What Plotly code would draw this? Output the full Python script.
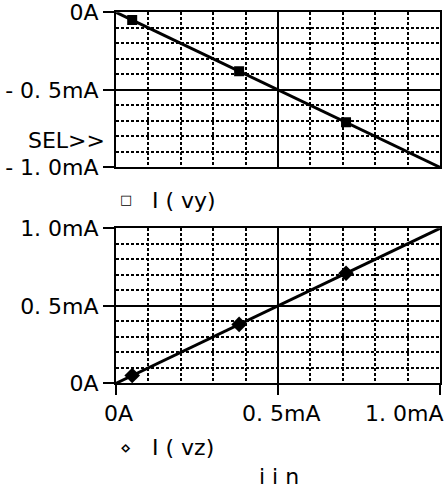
import plotly.graph_objects as go

# ---- data (currents in mA) ----
iin_ma = [0.0, 1.0]
i_vy = [0.0, -1.0]
i_vz = [0.0, 1.0]
marker_iin = [0.05, 0.38, 0.71]
marker_vy = [-0.05, -0.38, -0.71]
marker_vz = [0.05, 0.38, 0.71]

top_ytickvals = [0.0, -0.5, -1.0]
top_yticktext = ["0A", "- 0. 5mA", "- 1. 0mA"]
top_yminor = [-0.1, -0.2, -0.3, -0.4, -0.6, -0.7, -0.8, -0.9]
bot_ytickvals = [0.0, 0.5, 1.0]
bot_yticktext = ["0A", "0. 5mA", "1. 0mA"]
bot_yminor = [0.1, 0.2, 0.3, 0.4, 0.6, 0.7, 0.8, 0.9]
xtickvals = [0.0, 0.5, 1.0]
xticktext = ["0A", "0. 5mA", "1. 0mA"]
xminor = [0.1, 0.2, 0.3, 0.4, 0.6, 0.7, 0.8, 0.9]

W, H = 445, 491
FONT = "DejaVu Sans"
FS = 22

def px(x):
    return x / W

def py(y):
    return 1 - y / H

fig = go.Figure()

fig.add_trace(go.Scatter(x=iin_ma, y=i_vy, mode="lines", line=dict(color="black", width=3),
                         xaxis="x", yaxis="y", showlegend=False))
fig.add_trace(go.Scatter(x=marker_iin, y=marker_vy, mode="markers",
                         marker=dict(symbol="square", size=10, color="black"),
                         xaxis="x", yaxis="y", showlegend=False))
fig.add_trace(go.Scatter(x=iin_ma, y=i_vz, mode="lines", line=dict(color="black", width=3),
                         xaxis="x2", yaxis="y2", showlegend=False))
fig.add_trace(go.Scatter(x=marker_iin, y=marker_vz, mode="markers",
                         marker=dict(symbol="diamond", size=12, color="black"),
                         xaxis="x2", yaxis="y2", showlegend=False))

xdom = [px(116), px(440)]

def minor(vals):
    return dict(tickvals=vals, showgrid=True, gridcolor="black", gridwidth=1.5,
                griddash="3px,2px", ticks="")

base = dict(showline=True, linecolor="black", linewidth=2, mirror=True,
            showgrid=True, gridcolor="black", gridwidth=1.5, zeroline=False,
            automargin=False, tickmode="array", tickcolor="black", tickwidth=2)

fig.update_layout(
    width=W, height=H, autosize=False,
    margin=dict(l=0, r=0, t=0, b=0),
    paper_bgcolor="white", plot_bgcolor="white",
    font=dict(family=FONT, size=FS, color="black"),
    xaxis=dict(domain=xdom, anchor="y", range=[0, 1.0], tickvals=xtickvals,
               showticklabels=False, ticks="", minor=minor(xminor), **base),
    yaxis=dict(domain=[py(167.3), py(12.3)], anchor="x", range=[-1.0, 0.0],
               tickvals=top_ytickvals, ticktext=top_yticktext,
               ticks="outside", ticklen=11, minor=minor(top_yminor), **base),
    xaxis2=dict(domain=xdom, anchor="y2", range=[0, 1.0], tickvals=xtickvals,
                showticklabels=False, ticks="outside", ticklen=10,
                minor=minor(xminor), **base),
    yaxis2=dict(domain=[py(383.3), py(228.3)], anchor="x2", range=[0.0, 1.0],
                tickvals=bot_ytickvals, ticktext=bot_yticktext,
                ticks="outside", ticklen=11, minor=minor(bot_yminor), **base),
)

annots = []
# x tick labels
annots.append(dict(x=xtickvals[0], y=py(413), xref="x2", yref="paper", text=xticktext[0],
                   xanchor="center", yanchor="middle", xshift=2, showarrow=False))
annots.append(dict(x=xtickvals[1], y=py(413), xref="x2", yref="paper", text=xticktext[1],
                   xanchor="center", yanchor="middle", xshift=3, showarrow=False))
annots.append(dict(x=xtickvals[2], y=py(413), xref="x2", yref="paper", text=xticktext[2],
                   xanchor="right", yanchor="middle", xshift=5, showarrow=False))
# SEL>>
annots.append(dict(x=px(107), y=py(140), xref="paper", yref="paper", text="SEL>>",
                   xanchor="right", yanchor="middle", showarrow=False))
# legends
annots.append(dict(x=px(126), y=py(199), xref="paper", yref="paper", text="□",
                   font=dict(size=13), xanchor="center", yanchor="middle", showarrow=False))
annots.append(dict(x=px(150), y=py(200), xref="paper", yref="paper", text="I ( vy)",
                   xanchor="left", yanchor="middle", showarrow=False))
annots.append(dict(x=px(125), y=py(447), xref="paper", yref="paper", text="⋄",
                   font=dict(size=18), xanchor="center", yanchor="middle", showarrow=False))
annots.append(dict(x=px(150), y=py(447), xref="paper", yref="paper", text="I ( vz)",
                   xanchor="left", yanchor="middle", showarrow=False))
annots.append(dict(x=px(279), y=py(490), xref="paper", yref="paper", text="i i n",
                   xanchor="center", yanchor="bottom", borderpad=0, showarrow=False))
fig.update_layout(annotations=annots)

fig.write_html("out.html", config={"displayModeBar": False},
               post_script="document.body.style.margin='0';document.body.style.padding='0';"
                           "document.body.style.overflow='hidden';")
